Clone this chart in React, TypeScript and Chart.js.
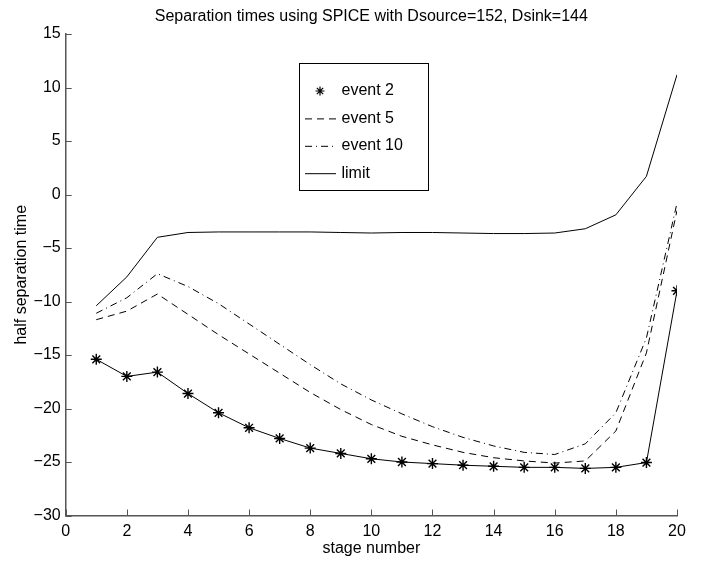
import { useEffect, useRef } from 'react';
import { Chart, registerables } from 'chart.js';

Chart.register(...registerables);

const stages = [1, 2, 3, 4, 5, 6, 7, 8, 9, 10, 11, 12, 13, 14, 15, 16, 17, 18, 19, 20];
const event2 = [-15.4, -17.0, -16.6, -18.6, -20.4, -21.8, -22.8, -23.7, -24.2, -24.7, -25.0, -25.15, -25.3, -25.4, -25.5, -25.5, -25.6, -25.5, -25.05, -9.0];
const event5 = [-11.7, -10.9, -9.3, -11.2, -13.1, -14.9, -16.7, -18.5, -20.1, -21.5, -22.6, -23.4, -24.1, -24.6, -24.9, -25.1, -24.9, -22.1, -14.8, -1.5];
const event10 = [-11.1, -9.65, -7.4, -8.6, -10.2, -12.1, -14.0, -15.9, -17.7, -19.2, -20.5, -21.7, -22.7, -23.5, -24.1, -24.3, -23.3, -20.4, -13.4, -0.8];
const limit = [-10.4, -7.7, -4.0, -3.55, -3.5, -3.5, -3.5, -3.5, -3.55, -3.6, -3.55, -3.55, -3.6, -3.65, -3.65, -3.6, -3.2, -1.9, 1.7, 11.2];
const seriesNames = ['event 2', 'event 5', 'event 10', 'limit'];
const xTickValues = [0, 2, 4, 6, 8, 10, 12, 14, 16, 18, 20];
const yTickValues = [-30, -25, -20, -15, -10, -5, 0, 5, 10, 15];
const titleText = 'Separation times using SPICE with Dsource=152, Dsink=144';
const xTitle = 'stage number';
const yTitle = 'half separation time';

const FONT = '"Liberation Sans", Arial, Helvetica, sans-serif';
const AXIS_COLOR = '#555';

const toPts = (arr: number[]) => stages.map((s, i) => ({ x: s, y: arr[i] }));

const drawStar = (ctx: CanvasRenderingContext2D, x: number, y: number, r: number) => {
  ctx.beginPath();
  for (let k = 0; k < 4; k++) {
    const a = (k * Math.PI) / 4;
    ctx.moveTo(x - r * Math.cos(a), y - r * Math.sin(a));
    ctx.lineTo(x + r * Math.cos(a), y + r * Math.sin(a));
  }
  ctx.stroke();
};

const decorPlugin = {
  id: 'decor',
  afterDraw(chart: any) {
    const ctx: CanvasRenderingContext2D = chart.ctx;
    const { left, right, bottom } = chart.chartArea;
    const xs = chart.scales.x;
    const ys = chart.scales.y;
    ctx.save();
    // inward tick marks
    ctx.strokeStyle = AXIS_COLOR;
    ctx.lineWidth = 1;
    ctx.beginPath();
    xTickValues.forEach((v) => {
      const px = Math.round(xs.getPixelForValue(v)) + 0.5;
      ctx.moveTo(px, bottom);
      ctx.lineTo(px, bottom - 6);
    });
    yTickValues.forEach((v) => {
      const py = Math.round(ys.getPixelForValue(v)) + 0.5;
      ctx.moveTo(left, py);
      ctx.lineTo(left + 6, py);
    });
    ctx.stroke();

    // title
    ctx.fillStyle = '#000';
    ctx.font = `16px ${FONT}`;
    ctx.textAlign = 'center';
    ctx.textBaseline = 'middle';
    ctx.fillText(titleText, (left + right) / 2, 17);

    // legend
    const bx = 299.5, by = 63.5, bw = 129, bh = 127;
    ctx.fillStyle = '#fff';
    ctx.fillRect(bx, by, bw, bh);
    ctx.strokeStyle = '#000';
    ctx.lineWidth = 1;
    ctx.strokeRect(bx, by, bw, bh);
    const dashes = [[], [7, 5], [7, 4, 1, 4], []];
    seriesNames.forEach((name, i) => {
      const cy = 91 + i * 27.4;
      ctx.strokeStyle = '#000';
      ctx.lineWidth = 1;
      if (i === 0) {
        ctx.setLineDash([]);
        ctx.lineWidth = 1.2;
        drawStar(ctx, 320, cy, 4.5);
        ctx.lineWidth = 1;
      } else {
        ctx.setLineDash(dashes[i]);
        ctx.beginPath();
        ctx.moveTo(305, cy + 0.5);
        ctx.lineTo(336, cy + 0.5);
        ctx.stroke();
        ctx.setLineDash([]);
      }
      ctx.fillStyle = '#000';
      ctx.font = `16px ${FONT}`;
      ctx.textAlign = 'left';
      ctx.textBaseline = 'middle';
      ctx.fillText(name, 341.5, cy);
    });
    ctx.restore();
  },
};

export default function App() {
  const ref = useRef<HTMLCanvasElement | null>(null);
  useEffect(() => {
    if (!ref.current) return;
    const chart = new Chart(ref.current, {
      type: 'scatter',
      data: {
        datasets: [
          {
            label: seriesNames[0],
            data: toPts(event2),
            showLine: true,
            borderColor: '#000',
            borderWidth: 1,
            pointStyle: 'star',
            pointRadius: 5.5,
            pointBorderColor: '#000',
            pointBorderWidth: 1.4,
          },
          {
            label: seriesNames[1],
            data: toPts(event5),
            showLine: true,
            borderColor: '#000',
            borderWidth: 1,
            borderDash: [7, 5],
            pointRadius: 0,
          },
          {
            label: seriesNames[2],
            data: toPts(event10),
            showLine: true,
            borderColor: '#000',
            borderWidth: 1,
            borderDash: [7, 4, 1, 4],
            pointRadius: 0,
          },
          {
            label: seriesNames[3],
            data: toPts(limit),
            showLine: true,
            borderColor: '#000',
            borderWidth: 1,
            pointRadius: 0,
          },
        ],
      },
      options: {
        responsive: false,
        animation: false,
        layout: { padding: { top: 34, right: 25, left: 0, bottom: 0 } },
        plugins: {
          legend: { display: false },
          title: { display: false },
          tooltip: { enabled: false },
        },
        scales: {
          x: {
            type: 'linear',
            min: 0,
            max: 20,
            afterBuildTicks: (s: any) => {
              s.ticks = xTickValues.map((v) => ({ value: v }));
            },
            afterFit: (s: any) => {
              s.height = 47.5;
            },
            grid: { display: true, drawOnChartArea: false, drawTicks: false },
            border: { display: true, color: AXIS_COLOR, width: 1.5 },
            ticks: {
              color: '#000',
              padding: 6,
              maxRotation: 0,
              autoSkip: false,
              font: { family: FONT, size: 16 },
              callback: (v: any) => String(v).replace('-', '\u2212'),
            },
            title: {
              display: true,
              text: xTitle,
              color: '#000',
              font: { family: FONT, size: 16 },
              padding: { top: 0, bottom: 4.4 },
            },
          },
          y: {
            type: 'linear',
            min: -30,
            max: 15,
            afterBuildTicks: (s: any) => {
              s.ticks = yTickValues.map((v) => ({ value: v }));
            },
            afterFit: (s: any) => {
              s.width = 65.7;
            },
            grid: { display: true, drawOnChartArea: false, drawTicks: false },
            border: { display: true, color: AXIS_COLOR, width: 1.5 },
            ticks: {
              color: '#000',
              padding: 5,
              autoSkip: false,
              font: { family: FONT, size: 16 },
              callback: (v: any) => String(v).replace('-', '\u2212'),
            },
            title: {
              display: true,
              text: yTitle,
              color: '#000',
              font: { family: FONT, size: 16 },
              padding: { top: 12, bottom: 0 },
            },
          },
        },
      },
      plugins: [decorPlugin],
    } as any);
    return () => chart.destroy();
  }, []);
  return (
    <div style={{ position: 'fixed', left: 0, top: 0, width: 702, height: 563, background: '#fff' }}>
      <canvas ref={ref} width={702} height={563} style={{ width: 702, height: 563 }} />
    </div>
  );
}
